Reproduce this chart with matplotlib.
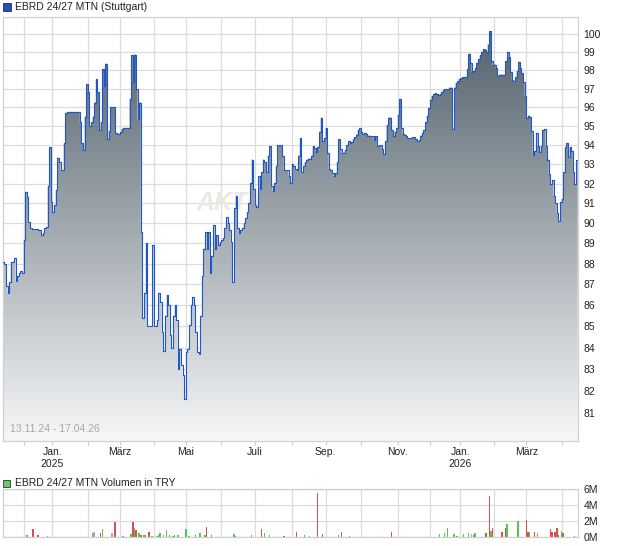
import numpy as np
import pandas as pd
import matplotlib
matplotlib.use("Agg")
import matplotlib.pyplot as plt
from matplotlib.patches import Rectangle
from matplotlib.ticker import NullLocator, NullFormatter
from matplotlib.colors import LinearSegmentedColormap

plt.rcParams['font.family'] = ['Liberation Sans', 'DejaVu Sans']

title = "EBRD 24/27 MTN (Stuttgart)"
vol_title = "EBRD 24/27 MTN Volumen in TRY"
period = "13.11.24 - 17.04.26"
watermark = "AKTIE"

# trading calendar (Stuttgart)
first_day = "2024-11-13"
last_day = "2026-04-17"
holidays = ["2024-12-24", "2024-12-25", "2024-12-26", "2024-12-31", "2025-01-01",
            "2025-04-18", "2025-04-21", "2025-12-24", "2025-12-25", "2025-12-26",
            "2025-12-31", "2026-01-01", "2026-04-03", "2026-04-06"]

# closing prices, one value per trading day, month by month
nov24 = [88.1, 88.0, 86.9, 86.6, 87.1, 88.1, 88.1, 88.3, 87.15, 87.4, 87.55, 87.65, 87.55]
dec24 = [89.15, 91.6, 91.35, 90.05, 89.75, 89.7, 89.7, 89.7, 89.7, 89.65, 89.65, 89.4,
         89.5, 89.75, 89.8, 91.9, 93.9, 91.05]
jan25 = [90.55, 90.9, 91.7, 93.35, 93.1, 92.7, 92.7, 94.1, 95.7, 95.75, 95.75, 95.75,
         95.75, 95.75, 95.75, 95.75, 95.75, 95.2, 94.1, 93.75, 95.5, 97.25]
feb25 = [96.8, 95.0, 95.2, 95.5, 96.25, 97.5, 96.8, 94.8, 95.2, 98.05, 97.15, 98.35,
         94.3, 94.75, 96.0, 96.0, 96.0, 94.65, 94.6, 94.6]
mar25 = [94.7, 94.85, 94.9, 94.9, 94.9, 94.9, 96.45, 98.8, 97.35, 98.85, 96.95, 95.35,
         96.25, 89.55, 85.4, 86.6, 89.0, 85.0, 85.0, 85.0, 88.9]
apr25 = [85.0, 85.0, 85.3, 86.6, 86.15, 84.75, 83.85, 85.5, 86.5, 86.0, 84.6, 84.0,
         85.5, 86.0, 85.3, 83.0, 83.95, 83.2, 82.75, 81.65]
may25 = [83.8, 83.95, 85.05, 86.0, 86.4, 86.0, 84.75, 83.8, 83.7, 85.5, 87.4, 88.75,
         89.55, 88.75, 89.55, 87.55, 88.4, 89.9, 88.75, 89.4, 88.9, 89.05]
jun25 = [89.15, 89.25, 89.75, 90.3, 90.0, 89.65, 89.05, 87.1, 90.75, 91.4, 89.75, 89.5,
         89.65, 89.75, 90.0, 90.25, 90.55, 91.0, 92.05, 93.25, 91.75]
jul25 = [90.9, 90.8, 92.4, 91.75, 92.6, 93.25, 93.1, 92.6, 93.45, 93.95, 91.9, 91.65,
         92.05, 92.9, 94.0, 94.0, 94.0, 93.45, 92.7, 92.7, 92.7, 92.4, 92.05]
aug25 = [93.0, 92.9, 92.75, 92.7, 93.45, 94.35, 92.6, 92.9, 93.1, 93.25, 93.3, 93.3,
         93.45, 93.95, 93.85, 93.65, 93.9, 94.7, 95.45, 94.2, 94.35]
sep25 = [94.9, 93.6, 92.75, 92.7, 92.55, 92.4, 92.55, 93.1, 94.3, 93.8, 93.6, 93.6,
         93.75, 94.0, 94.2, 94.1, 94.15, 94.3, 94.4, 94.55, 94.8, 94.9]
oct25 = [94.7, 94.6, 94.65, 94.6, 94.5, 94.5, 94.45, 94.45, 94.25, 94.45, 93.95, 94.0,
         94.0, 93.8, 93.55, 94.2, 95.05, 95.45, 95.45, 94.8, 94.45, 94.7, 94.9]
nov25 = [95.6, 96.45, 94.9, 94.6, 94.55, 94.45, 94.35, 94.35, 94.35, 94.4, 94.4, 94.3,
         94.2, 94.25, 94.5, 94.65, 94.8, 95.2, 95.55, 95.95]
dec25 = [96.4, 96.6, 96.7, 96.75, 96.7, 96.65, 96.7, 96.8, 96.9, 96.95, 96.95, 96.95,
         97.05, 97.05, 94.85, 97.05, 97.3, 97.4, 97.5]
jan26 = [97.55, 97.6, 97.6, 97.6, 98.05, 98.9, 98.4, 97.9, 97.95, 98.1, 98.4, 98.6,
         98.8, 99.0, 99.15, 99.1, 99.0, 99.4, 100.15, 98.5, 98.25]
feb26 = [98.3, 98.1, 97.7, 97.75, 97.75, 97.75, 97.75, 98.5, 99.0, 98.7, 97.9, 97.45,
         97.4, 97.6, 97.95, 98.45, 98.1, 97.85, 97.35, 96.6]
mar26 = [95.45, 95.55, 95.5, 94.75, 93.5, 93.7, 94.65, 93.95, 93.65, 93.95, 94.8, 94.85,
         93.95, 93.25, 92.5, 92.0, 92.2, 91.4, 91.0, 90.5, 90.1, 91.05]
apr26 = [91.25, 92.6, 93.9, 94.1, 93.4, 93.9, 93.7, 92.6, 92.0, 93.2, 94.6]

# volume (million TRY), r = down day, g = up day, n = unchanged
vol_dates = ["2024-12-04", "2024-12-10", "2024-12-13", "2024-12-23", "2025-02-06",
             "2025-02-07", "2025-02-13", "2025-02-14", "2025-02-24", "2025-02-26",
             "2025-03-05", "2025-03-12", "2025-03-13", "2025-03-14", "2025-03-17",
             "2025-03-19", "2025-03-20", "2025-03-24", "2025-03-25", "2025-03-27",
             "2025-03-31", "2025-04-03", "2025-04-04", "2025-04-07", "2025-04-09",
             "2025-04-11", "2025-04-15", "2025-04-17", "2025-04-22", "2025-04-24",
             "2025-05-01", "2025-05-05", "2025-05-09", "2025-05-14", "2025-05-19",
             "2025-05-20", "2025-05-23", "2025-06-12", "2025-06-13", "2025-06-27",
             "2025-07-07", "2025-07-09", "2025-07-14", "2025-07-25", "2025-08-06",
             "2025-08-13", "2025-08-18", "2025-08-25", "2025-08-28", "2025-09-11",
             "2025-09-15", "2025-09-22", "2025-10-28", "2025-12-09", "2025-12-12",
             "2025-12-16", "2025-12-22", "2025-12-29", "2026-01-06", "2026-01-09",
             "2026-01-13", "2026-01-14", "2026-01-15", "2026-01-26", "2026-01-28",
             "2026-01-29", "2026-01-30", "2026-02-09", "2026-02-11", "2026-02-12",
             "2026-02-23", "2026-03-02", "2026-03-03", "2026-03-04", "2026-03-09",
             "2026-03-11", "2026-03-23", "2026-03-24", "2026-03-26", "2026-03-27",
             "2026-03-30", "2026-04-01", "2026-04-02", "2026-04-15"]
vol_values = [0.2, 0.97, 0.2, 0.1, 0.42, 0.55, 0.46, 0.97, 0.46, 1.86,
              0.08, 0.34, 1.86, 1.1, 0.84, 0.46, 0.2, 0.2, 0.2, 0.6,
              0.08, 0.08, 0.2, 0.46, 0.2, 0.84, 0.2, 0.08, 0.2, 0.2,
              0.97, 0.08, 0.2, 0.46, 0.2, 1.22, 0.2, 0.34, 0.08, 0.2,
              1.0, 0.46, 0.2, 0.08, 0.6, 0.2, 0.08, 5.5, 0.34, 0.2,
              0.6, 0.08, 0.6, 0.34, 0.46, 1.1, 0.34, 0.08, 0.34, 0.46,
              0.34, 0.2, 0.46, 0.46, 5.15, 0.72, 1.1, 0.6, 1.1, 1.6,
              2.0, 2.07, 0.6, 0.6, 0.6, 0.46, 0.97, 0.6, 0.6, 1.1,
              0.2, 0.72, 0.46, 0.08]
vol_kind = "grrggnrgnrggrgrgrggrgnggngrgggggrggrrgggrggrrggrrgrrrgggggggnrgrrgrrrggrrgrgrrrrrgrr"


def readdata():
    days = pd.bdate_range(first_day, last_day)
    days = days[~days.isin(pd.to_datetime(holidays))]
    close = np.concatenate([nov24, dec24, jan25, feb25, mar25, apr25, may25, jun25, jul25,
                            aug25, sep25, oct25, nov25, dec25, jan26, feb26, mar26, apr26])
    n = min(len(days), len(close))
    return days[:n], close[:n]


def main():
    days, close = readdata()
    x = np.arange(len(close))
    months = np.asarray(days.month)
    starts = np.flatnonzero(months[1:] != months[:-1]) + 1
    names = {1: "Jan.", 3: "März", 5: "Mai", 7: "Juli", 9: "Sep.", 11: "Nov."}
    labels = []
    for i in starts:
        d = days[i]
        lab = names.get(d.month, "")
        if d.month == 1:
            lab += "\n" + str(d.year)
        labels.append(lab)

    W, H = 620, 546
    fig = plt.figure(figsize=(W / 100, H / 100), dpi=100)

    def box(l, t, r, b):
        return [l / W, 1 - b / H, (r - l) / W, (b - t) / H]

    grid_c = '#dcdcdc'
    text_c = '#222222'
    xlim = (0, len(close) - 1 + 0.2)

    # price panel
    ax = fig.add_axes(box(2.7, 16.7, 578, 441))
    ax.set_yscale('log')
    ylo, yhi = 79.75, 100.95
    poly = ax.fill_between(x, close, ylo * 0.99, step='post', facecolor='none',
                           edgecolor='none')
    cmap = LinearSegmentedColormap.from_list('g', ['#f6f7f8', '#4e5d68'])
    grad = np.linspace(0, 1, 256).reshape(-1, 1)
    im = ax.imshow(grad, extent=[0, 1, 0, 1], transform=ax.transAxes, origin='lower',
                   aspect='auto', cmap=cmap, zorder=1, interpolation='bilinear')
    im.set_clip_path(poly.get_paths()[0], transform=ax.transData)
    ax.plot(x, close, drawstyle='steps-post', color='#1f56c8', lw=0.8, zorder=3)
    ax.set_xlim(*xlim)
    ax.set_ylim(ylo, yhi)

    ax.set_axisbelow(True)
    ax.grid(True, color=grid_c, lw=0.9)
    ax.yaxis.tick_right()
    ax.set_yticks(range(81, 101))
    ax.set_yticklabels([str(v) for v in range(81, 101)])
    ax.yaxis.set_minor_locator(NullLocator())
    ax.yaxis.set_minor_formatter(NullFormatter())
    ax.tick_params(axis='y', which='both', length=0, pad=4, labelsize=7.5,
                   labelcolor=text_c)
    ax.set_xticks(starts)
    ax.set_xticklabels(labels)
    ax.tick_params(axis='x', length=3, color='#cccccc', pad=1.5, labelsize=7.5,
                   labelcolor=text_c)
    for s in ax.spines.values():
        s.set_color('#d0d0d0')
        s.set_linewidth(0.9)

    ax.text(0.012, 0.017, period, transform=ax.transAxes, fontsize=7.5,
            color='#a8a8a8', ha='left', va='bottom', zorder=4)
    # watermark sits under the filled area
    ax.text(197 / W, 1 - 203 / H, watermark, transform=fig.transFigure, fontsize=18,
            style='italic', fontweight='bold', color='#ece8e3', ha='left',
            va='center', zorder=0.8)

    # volume panel
    axv = fig.add_axes(box(2.7, 489.3, 578, 536.7))
    colors = {'r': '#dc4f4f', 'g': '#4ccc4c', 'n': '#a8a8a8'}
    vx = days.get_indexer(pd.to_datetime(vol_dates))
    axv.bar(vx, vol_values, width=0.95, color=[colors[k] for k in vol_kind],
            linewidth=0, zorder=2)
    axv.set_xlim(*xlim)
    axv.set_ylim(0, 6)
    axv.set_axisbelow(True)
    axv.grid(True, color=grid_c, lw=0.9)
    axv.set_xticks(starts)
    axv.set_xticklabels([])
    axv.yaxis.tick_right()
    axv.set_yticks([0, 2, 4, 6])
    axv.set_yticklabels(['0M', '2M', '4M', '6M'])
    axv.tick_params(axis='both', length=0, pad=4, labelsize=7.5, labelcolor=text_c)
    for s in axv.spines.values():
        s.set_color('#d0d0d0')
        s.set_linewidth(0.9)

    # legend boxes and titles
    fig.add_artist(Rectangle((3 / W, 1 - 11 / H), 8 / W, 8 / H, transform=fig.transFigure,
                             facecolor='#1f4fbf', edgecolor='#333333', lw=0.6))
    fig.text(15 / W, 1 - 7 / H, title, fontsize=7.5, color=text_c, ha='left',
             va='center')
    fig.add_artist(Rectangle((3 / W, 1 - 487 / H), 7 / W, 7 / H,
                             transform=fig.transFigure, facecolor='#66cc66',
                             edgecolor='#333333', lw=0.6))
    fig.text(15 / W, 1 - 483 / H, vol_title, fontsize=7.5, color=text_c, ha='left',
             va='center')

    fig.savefig('out.png', dpi=100, facecolor='white')


if __name__ == "__main__":
    main()
